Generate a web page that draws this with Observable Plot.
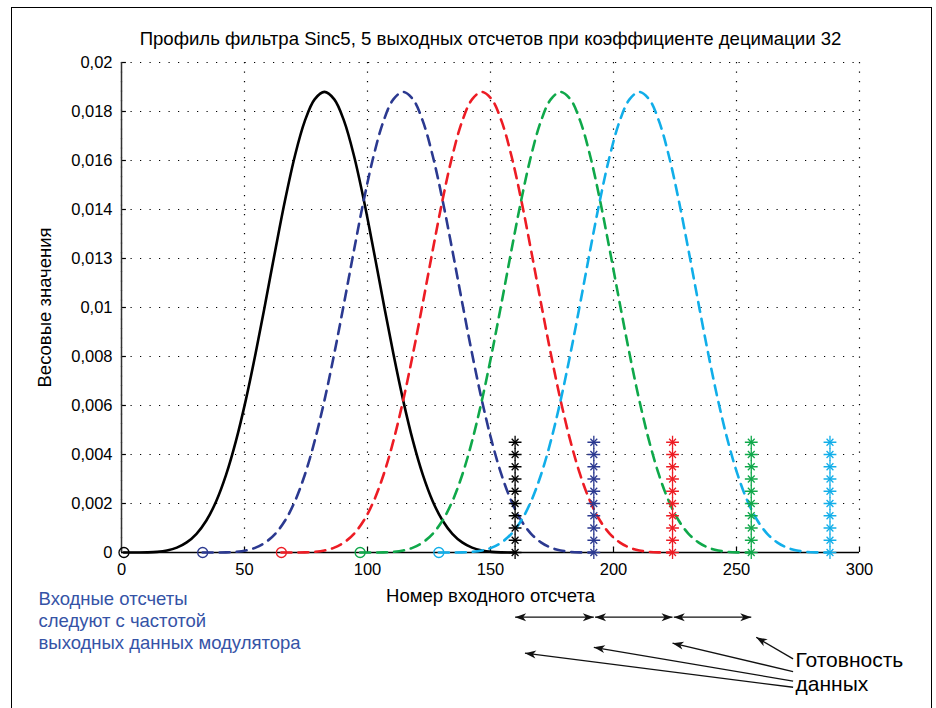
<!DOCTYPE html>
<html><head><meta charset="utf-8">
<script src="https://cdn.jsdelivr.net/npm/d3@7"></script>
<script src="https://cdn.jsdelivr.net/npm/@observablehq/plot@0.6"></script>
<style>
html,body{margin:0;padding:0;background:#fff;}
#wrap{position:relative;width:936px;height:708px;overflow:hidden;}
#border{position:absolute;left:11px;top:7px;width:921px;height:760px;border:1px solid #000;box-sizing:border-box;}
#chart{position:absolute;left:0;top:0;}
</style></head><body>
<div id="wrap"><div id="border"></div><div id="chart"></div></div>
<script>
// ---- data ----
const titleText = "Профиль фильтра Sinc5, 5 выходных отсчетов при коэффициенте децимации 32";
const xLabel = "Номер входного отсчета";
const yLabel = "Весовые значения";
const noteLeft = ["Входные отсчеты", "следуют с частотой", "выходных данных модулятора"];
const noteRight = ["Готовность", "данных"];

const xTicks = [0, 50, 100, 150, 200, 250, 300];
const yTicks = [0, 0.002, 0.004, 0.006, 0.008, 0.010, 0.012, 0.014, 0.016, 0.018, 0.020];
const yTickLabels = ["0", "0,002", "0,004", "0,006", "0,008", "0,01", "0,013", "0,014", "0,016", "0,018", "0,02"];

// profile of the first (black) output sample: input sample number -> weight
const profileX = [1, 2.5, 6.5, 10.5, 14.5, 18.5, 22.5, 26.5, 30.5, 34.5, 38.5, 42.5, 46.5, 50.5, 54.5, 58.5,
  62.5, 66.5, 70.5, 74.5, 78.5, 82.5, 86.5, 90.5, 94.5, 98.5, 102.5, 106.5, 110.5, 114.5, 118.5, 122.5,
  126.5, 130.5, 134.5, 138.5, 142.5, 146.5, 150.5, 154.5, 158.5, 160];
const profileY = [0, 0, 0.0000003, 0.0000051, 0.0000257, 0.0000815, 0.000199, 0.000413, 0.000765, 0.001306,
  0.002091, 0.003165, 0.004543, 0.006210, 0.008120, 0.010195, 0.012330, 0.014385, 0.016195, 0.017605,
  0.018495, 0.018800, 0.018495, 0.017605, 0.016195, 0.014385, 0.012330, 0.010195, 0.008120, 0.006210,
  0.004543, 0.003165, 0.002091, 0.001306, 0.000765, 0.000413, 0.000199, 0.0000815, 0.0000257, 0.0000051,
  0.0000003, 0];

// the five output samples: shift of each profile, first input sample, "data ready" sample
const seriesOffset = [0, 32, 64, 96, 128];
const seriesStart = [1, 33, 65, 97, 129];
const seriesReady = [160, 192, 224, 256, 288];
const readyLevels = [0, 0.0005, 0.001, 0.0015, 0.002, 0.0025, 0.003, 0.0035, 0.004, 0.0045];

// annotation arrows (data units)
const spanArrows = [[160, 192], [192.5, 224], [224.5, 256]];
const spanArrowY = -0.00264;
const readyArrowHeadX = [164, 192, 224, 258];
const readyArrowHeadY = [-0.00411, -0.00387, -0.00370, -0.00346];
const readyArrowTailX = 273;
const readyArrowTailY = [-0.00550, -0.00525, -0.00486, -0.00434];

// ---- styles ----
const seriesColor = ["#000000", "#2b3990", "#ed1c24", "#0fa84a", "#11aee9"];
const font = "'Liberation Sans', Arial, Helvetica, sans-serif";

function arrowHead(color, context) {
  const doc = (context && context.document) || document;
  const ns = "http://www.w3.org/2000/svg";
  const m = doc.createElementNS(ns, "marker");
  m.setAttribute("viewBox", "-12 -5 13 10");
  m.setAttribute("markerWidth", 13);
  m.setAttribute("markerHeight", 10);
  m.setAttribute("markerUnits", "userSpaceOnUse");
  m.setAttribute("orient", "auto-start-reverse");
  m.setAttribute("refX", 0);
  m.setAttribute("refY", 0);
  const p = doc.createElementNS(ns, "path");
  p.setAttribute("d", "M0,0L-11,-4L-8,0L-11,4Z");
  p.setAttribute("fill", color);
  p.setAttribute("stroke", "none");
  m.appendChild(p);
  return m;
}

function build(head) {
  const marks = [];
  const gridStyle = {stroke: "#000", strokeOpacity: 1, strokeWidth: 1.2, strokeDasharray: "1.2,8.3"};
  marks.push(Plot.gridX(xTicks, gridStyle));
  marks.push(Plot.gridY(yTicks, gridStyle));
  marks.push(Plot.ruleX(xTicks, {x: d => d, y1: 0, y2: 0.0002, stroke: "#000", strokeWidth: 1.2}));
  marks.push(Plot.ruleY(yTicks, {y: d => d, x1: 0, x2: 2, stroke: "#000", strokeWidth: 1.2}));
  marks.push(Plot.ruleX([0], {x: d => d, y1: 0, y2: 0.02, stroke: "#333", strokeWidth: 1.5}));
  marks.push(Plot.ruleY([0], {y: d => d, x1: 0, x2: 300, stroke: "#000", strokeWidth: 1.5}));

  seriesOffset.forEach((off, s) => {
    const rows = profileX.map((x, i) => ({x: x + off, y: profileY[i]}));
    marks.push(Plot.line(rows, {
      x: "x", y: "y", stroke: seriesColor[s], strokeWidth: 2.6,
      strokeDasharray: s === 0 ? null : "10,7", curve: "catmull-rom"
    }));
  });
  seriesOffset.forEach((off, s) => {
    marks.push(Plot.dot([seriesStart[s]], {x: d => d, y: () => 0, r: 5, stroke: seriesColor[s], strokeWidth: 1.3, fill: "none"}));
    marks.push(Plot.dot(readyLevels, {x: () => seriesReady[s], y: d => d, symbol: "plus", r: 4.2, stroke: seriesColor[s], strokeWidth: 1.3}));
    marks.push(Plot.dot(readyLevels, {x: () => seriesReady[s], y: d => d, symbol: "times", r: 3.2, stroke: seriesColor[s], strokeWidth: 1.3}));
  });

  marks.push(Plot.axisX(xTicks, {tickSize: 0, tickPadding: 11, fontSize: 16.5, tickFormat: d => String(d), label: null}));
  marks.push(Plot.axisY(yTicks, {tickSize: 0, tickPadding: 9, fontSize: 16.5, tickFormat: d => yTickLabels[yTicks.indexOf(d)], label: null}));

  marks.push(Plot.text([titleText], {frameAnchor: "top", dy: -18, lineAnchor: "bottom", fontSize: 18.6, fill: "#000"}));
  marks.push(Plot.text([xLabel], {frameAnchor: "bottom", dy: 49, lineAnchor: "bottom", fontSize: 18.5, fill: "#000"}));
  marks.push(Plot.text([yLabel], {frameAnchor: "left", dx: -76, rotate: -90, textAnchor: "middle", fontSize: 18.5, fill: "#000"}));
  marks.push(Plot.text([noteLeft.join("\n")], {frameAnchor: "bottom-left", dx: -83, dy: 36.5, textAnchor: "start", lineAnchor: "top", lineHeight: 1.2, fontSize: 18.5, fill: "#3553a6"}));
  marks.push(Plot.text([noteRight.join("\n")], {frameAnchor: "bottom-right", dx: -64, dy: 138, textAnchor: "start", lineAnchor: "bottom", lineHeight: 1.11, fontSize: 21, fill: "#000"}));

  marks.push(Plot.link(spanArrows, {
    x1: d => d[0], x2: d => d[1], y1: () => spanArrowY, y2: () => spanArrowY,
    stroke: "#111", strokeWidth: 1.3, markerStart: head, markerEnd: head
  }));
  marks.push(Plot.link(readyArrowHeadX, {
    x1: () => readyArrowTailX, y1: (d, i) => readyArrowTailY[i], x2: d => d, y2: (d, i) => readyArrowHeadY[i],
    stroke: "#111", strokeWidth: 1.3, markerEnd: head
  }));

  return Plot.plot({
    width: 936, height: 708,
    marginLeft: 121, marginRight: 77, marginTop: 62, marginBottom: 156,
    x: {domain: [0, 300]},
    y: {domain: [0, 0.02]},
    style: {fontFamily: font, fontSize: "16px", color: "#000", background: "transparent"},
    marks
  });
}

let chart;
try { chart = build(arrowHead); } catch (e) { chart = build("arrow"); }
document.getElementById("chart").appendChild(chart);
</script>
</body></html>
